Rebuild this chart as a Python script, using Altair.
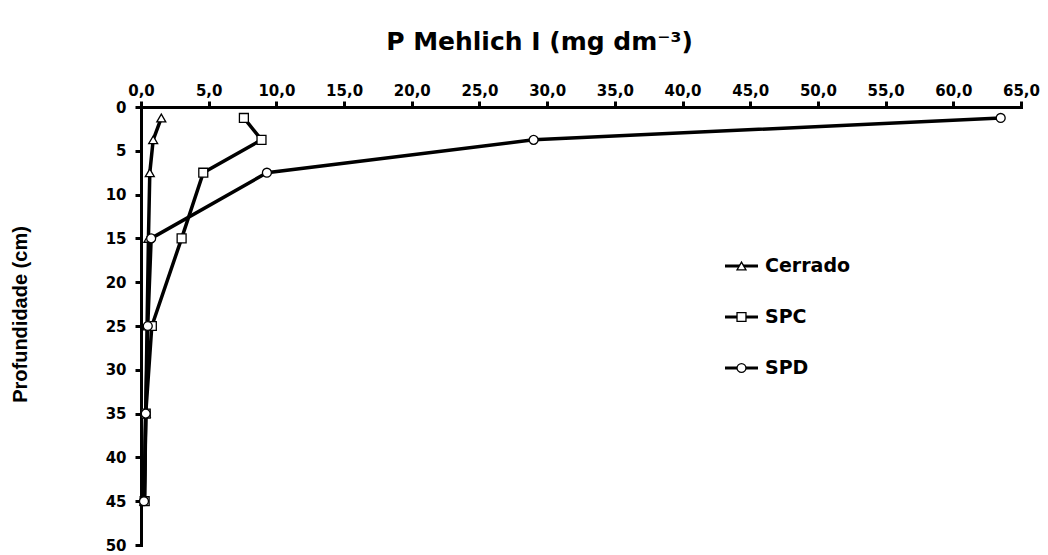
import altair as alt
import pandas as pd

depth = [1.25, 3.75, 7.5, 15, 25, 35, 45]
cerrado = [1.5, 0.9, 0.65, 0.55, 0.45, 0.35, 0.25]
spc = [7.6, 8.9, 4.6, 3.0, 0.8, 0.35, 0.27]
spd = [63.5, 29.0, 9.3, 0.75, 0.5, 0.35, 0.22]
series = ["Cerrado", "SPC", "SPD"]
x_ticks = list(range(0, 70, 5))
y_ticks = list(range(0, 55, 5))

rows = []
for name, vals in zip(series, [cerrado, spc, spd]):
    for d, v in zip(depth, vals):
        rows.append({"serie": name, "prof": d, "p": v})
df = pd.DataFrame(rows)
leg_df = pd.DataFrame({"serie": series})

FONT = "DejaVu Sans"
FONT_Y = "Liberation Sans"

shape_scale = alt.Scale(domain=series, range=["triangle-up", "square", "circle"])
size_scale = alt.Scale(domain=series, range=[80, 80, 85])

x_enc = alt.X("p:Q", scale=alt.Scale(domain=[0, 65], nice=False, zero=True),
              axis=alt.Axis(orient="top", values=x_ticks,
                            labelExpr="replace(format(datum.value, '.1f'), '.', ',')",
                            title="P Mehlich I (mg dm⁻³)",
                            titleX=398, titleY=-66, titleAlign="center", titleBaseline="middle",
                            titleFont=FONT, titleFontSize=25, labelPadding=3))
y_enc = alt.Y("prof:Q", scale=alt.Scale(domain=[0, 50], reverse=True, nice=False),
              axis=alt.Axis(values=y_ticks, title="Profundidade (cm)",
                            titleX=-121, titleY=207, titleAngle=-90,
                            titleAlign="center", titleBaseline="middle",
                            titleFont=FONT_Y, titleFontSize=20, labelPadding=9))

lines = alt.Chart(df).mark_line(color="black", strokeWidth=3.5).encode(
    x=x_enc, y=y_enc, detail="serie:N", order="prof:Q")

points = alt.Chart(df).mark_point(filled=True, fill="white", stroke="black",
                                  strokeWidth=1.3, opacity=1).encode(
    x="p:Q", y="prof:Q",
    shape=alt.Shape("serie:N", scale=shape_scale, legend=None),
    size=alt.Size("serie:N", scale=size_scale, legend=None),
)

data_layer = alt.layer(lines, points)

# legend (drawn as its own small layer)
leg_y = alt.Y("serie:N", scale=alt.Scale(type="point", domain=series, range=[159, 261], padding=0),
              axis=None)
leg_rule = alt.Chart(leg_df).mark_rule(color="black", strokeWidth=3).encode(
    x=alt.value(584), x2=alt.value(617), y=leg_y)
leg_pt = alt.Chart(leg_df).mark_point(filled=True, fill="white", stroke="black",
                                      strokeWidth=1.3, opacity=1).encode(
    x=alt.value(600.5), y=leg_y,
    shape=alt.Shape("serie:N", scale=shape_scale, legend=None),
    size=alt.Size("serie:N", scale=size_scale, legend=None),
)
leg_txt = alt.Chart(leg_df).mark_text(align="left", baseline="middle", font=FONT,
                                      fontSize=19, fontWeight="bold", color="black").encode(
    x=alt.value(624), y=leg_y, text="serie:N")
legend_layer = alt.layer(leg_rule, leg_pt, leg_txt)

chart = alt.layer(data_layer, legend_layer).resolve_scale(y="independent").properties(
    width=880, height=438, background="white",
    autosize=alt.AutoSizeParams(type="none"),
    padding={"left": 133, "top": 99, "right": 19, "bottom": 9},
).configure_view(stroke=None).configure_axis(
    domain=True, domainColor="black", domainWidth=3, domainCap="square",
    ticks=True, tickColor="black", tickWidth=3, tickSize=6,
    labelFont=FONT, labelFontSize=15, labelFontWeight="bold", labelColor="black",
    titleFontWeight="bold", titleColor="black",
    grid=False, labelFlush=False, labelOverlap=False,
)

chart.save("out.html", embed_options={"renderer": "svg", "actions": False})
